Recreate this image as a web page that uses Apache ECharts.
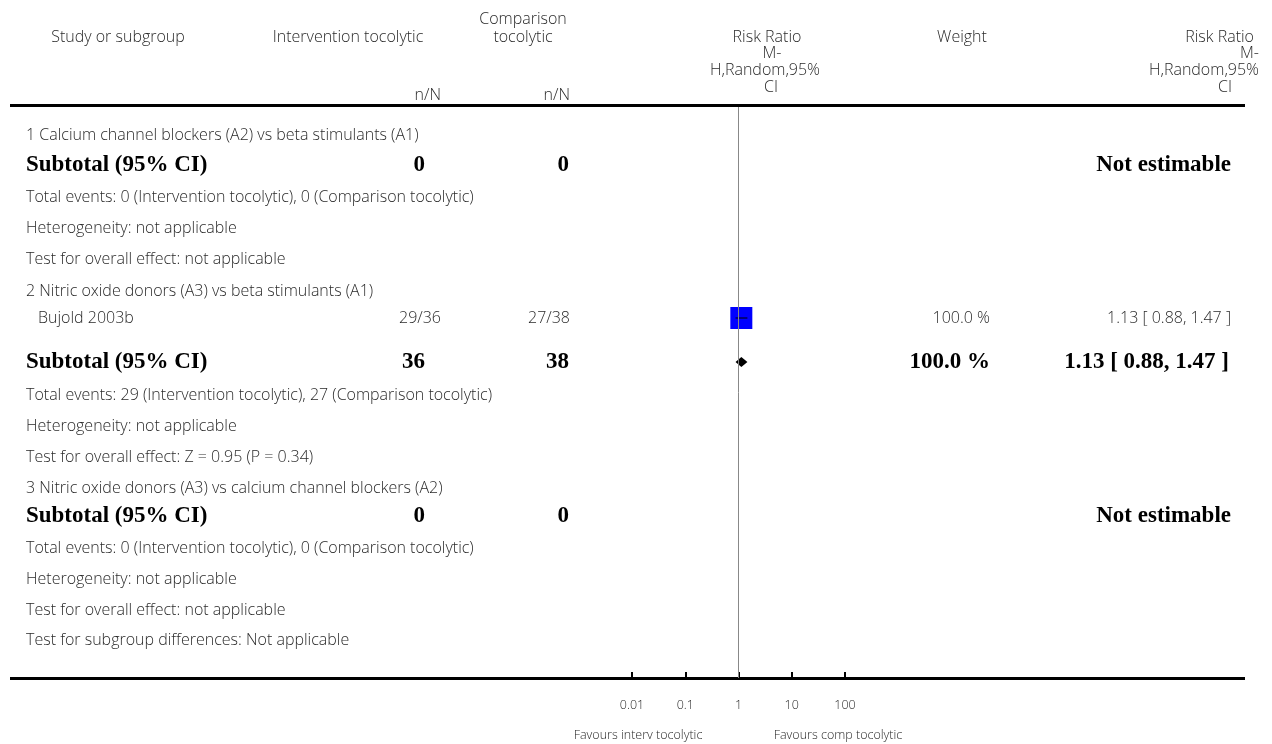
<!DOCTYPE html>
<html><head><meta charset="utf-8">
<script src="https://cdn.jsdelivr.net/npm/echarts@6/dist/echarts.min.js"></script>
<style>html,body{margin:0;padding:0;background:#fff}#c{width:1272px;height:744px}</style>
</head><body><div id="c"></div>
<script>
// ---- data ----
const subgroupTitles = [
  '1 Calcium channel blockers (A2) vs beta stimulants (A1)',
  '2 Nitric oxide donors (A3) vs beta stimulants (A1)',
  '3 Nitric oxide donors (A3) vs calcium channel blockers (A2)'
];
const studyNames = ['Bujold 2003b'];
const studySubgroup = [1];
const interventionEvents = [29];
const interventionTotal = [36];
const comparisonEvents = [27];
const comparisonTotal = [38];
const studyRR = [1.13];
const studyLow = [0.88];
const studyHigh = [1.47];
const studyWeight = [100.0];
const subtotalInterventionN = [0, 36, 0];
const subtotalComparisonN = [0, 38, 0];
const subtotalEventsInt = [0, 29, 0];
const subtotalEventsComp = [0, 27, 0];
const subtotalRR = [null, 1.13, null];
const subtotalLow = [null, 0.88, null];
const subtotalHigh = [null, 1.47, null];
const subtotalWeight = [null, 100.0, null];
const heterogeneityText = ['not applicable', 'not applicable', 'not applicable'];
const overallEffectText = ['not applicable', 'Z = 0.95 (P = 0.34)', 'not applicable'];
const subgroupDiffText = 'Not applicable';
const xTicks = [0.01, 0.1, 1, 10, 100];
const favoursLeft = 'Favours interv tocolytic';
const favoursRight = 'Favours comp tocolytic';

// ---- layout ----
const rowY = [135,165,197,228,259,291,318,362,395,426,457,488,516,548,579,610,640];
const SANS = '"Open Sans", "Lato", sans-serif';
const SERIF = '"Liberation Serif", "DejaVu Serif", serif';
const TXT = '#2a2a2a';
const smallFont = '300 16px ' + SANS;
const boldFont = 'bold 23px ' + SERIF;

const fmt1 = v => v.toFixed(1) + ' %';
const fmtCI = (r, l, h) => r.toFixed(2) + ' [ ' + l.toFixed(2) + ', ' + h.toFixed(2) + ' ]';

const graphics = [];
function txt(x, y, text, align, font, fill) {
  graphics.push({type: 'text', x: x, y: y, silent: true,
    style: {text: text, font: font || smallFont, fill: fill || TXT, align: align || 'left', verticalAlign: 'middle'}});
}
// header
txt(118, 37, 'Study or subgroup', 'center');
txt(348, 37, 'Intervention tocolytic', 'center');
txt(523, 19, 'Comparison', 'center');
txt(523, 37, 'tocolytic', 'center');
txt(441, 95, 'n/N', 'right');
txt(570, 95, 'n/N', 'right');
txt(767, 37, 'Risk Ratio', 'center');
txt(772, 53, 'M-', 'center');
txt(765, 70, 'H,Random,95%', 'center');
txt(771, 87, 'CI', 'center');
txt(962, 37, 'Weight', 'center');
txt(1254, 37, 'Risk Ratio', 'right');
txt(1259, 53, 'M-', 'right');
txt(1259, 70, 'H,Random,95%', 'right');
txt(1232, 87, 'CI', 'right');

// body rows
const studyPoints = [];
const ciItems = [];
let r = 0;
for (let g = 0; g < subgroupTitles.length; g++) {
  txt(26, rowY[r++], subgroupTitles[g]);
  for (let s = 0; s < studyNames.length; s++) {
    if (studySubgroup[s] !== g) continue;
    const y = rowY[r++];
    txt(38, y, studyNames[s]);
    txt(441, y, interventionEvents[s] + '/' + interventionTotal[s], 'right');
    txt(570, y, comparisonEvents[s] + '/' + comparisonTotal[s], 'right');
    txt(990, y, fmt1(studyWeight[s]), 'right');
    txt(1231, y, fmtCI(studyRR[s], studyLow[s], studyHigh[s]), 'right');
    studyPoints.push({value: [studyRR[s], y], symbolSize: 22 * Math.sqrt(studyWeight[s] / 100)});
    ciItems.push([studyLow[s], studyHigh[s], studyRR[s], y, 0]);
  }
  const ys = rowY[r++];
  txt(26, ys, 'Subtotal (95% CI)', 'left', boldFont, '#000');
  txt(425, ys, String(subtotalInterventionN[g]), 'right', boldFont, '#000');
  txt(569, ys, String(subtotalComparisonN[g]), 'right', boldFont, '#000');
  if (subtotalRR[g] == null) {
    txt(1231, ys, 'Not estimable', 'right', boldFont, '#000');
  } else {
    txt(990, ys, fmt1(subtotalWeight[g]), 'right', boldFont, '#000');
    txt(1229, ys, fmtCI(subtotalRR[g], subtotalLow[g], subtotalHigh[g]), 'right', boldFont, '#000');
    ciItems.push([subtotalLow[g], subtotalHigh[g], subtotalRR[g], ys, 1]);
  }
  txt(26, rowY[r++], 'Total events: ' + subtotalEventsInt[g] + ' (Intervention tocolytic), ' + subtotalEventsComp[g] + ' (Comparison tocolytic)');
  txt(26, rowY[r++], 'Heterogeneity: ' + heterogeneityText[g]);
  txt(26, rowY[r++], 'Test for overall effect: ' + overallEffectText[g]);
}
txt(26, rowY[r++], 'Test for subgroup differences: ' + subgroupDiffText);
txt(638, 735, favoursLeft, 'center', '300 12.5px ' + SANS);
txt(838, 735, favoursRight, 'center', '300 12.5px ' + SANS);

// rules
graphics.push({type: 'line', silent: true, shape: {x1: 10, y1: 105.5, x2: 1245, y2: 105.5}, style: {stroke: '#000', lineWidth: 3}});
graphics.push({type: 'line', silent: true, shape: {x1: 10, y1: 678.5, x2: 1245, y2: 678.5}, style: {stroke: '#000', lineWidth: 3}});

const chart = echarts.init(document.getElementById('c'), null, {renderer: 'canvas'});
chart.setOption({
  animation: false,
  backgroundColor: '#fff',
  grid: {left: 632, width: 213, top: 107, height: 571},
  xAxis: {
    type: 'log', logBase: 10, min: xTicks[0], max: xTicks[xTicks.length - 1], interval: 1,
    axisLine: {show: false},
    axisTick: {show: true, inside: true, length: 6, lineStyle: {color: '#000', width: 2}},
    axisLabel: {margin: 21, fontSize: 12.5, fontWeight: 300, fontFamily: SANS, color: TXT, formatter: v => String(v)},
    splitLine: {show: false}
  },
  yAxis: {type: 'value', min: 107, max: 678, inverse: true, show: false},
  series: [
    {
      type: 'scatter', symbol: 'rect', data: studyPoints,
      itemStyle: {color: '#0000ff', opacity: 1}, z: 2,
      markLine: {silent: true, symbol: 'none', label: {show: false},
        lineStyle: {color: '#888', width: 1, type: 'solid'}, data: [{xAxis: 1}]}
    },
    {
      type: 'custom', z: 3, data: ciItems,
      renderItem: function (params, api) {
        const lo = api.coord([api.value(0), api.value(3)]);
        const hi = api.coord([api.value(1), api.value(3)]);
        const c = api.coord([api.value(2), api.value(3)]);
        if (api.value(4) === 0) {
          return {type: 'line', shape: {x1: lo[0], y1: lo[1], x2: hi[0], y2: hi[1]}, style: {stroke: '#000', lineWidth: 1}};
        }
        return {type: 'polygon', shape: {points: [[lo[0], lo[1]], [c[0], c[1] - 5], [hi[0], hi[1]], [c[0], c[1] + 5]]}, style: {fill: '#000'}};
      }
    }
  ],
  graphic: graphics
});
</script></body></html>
